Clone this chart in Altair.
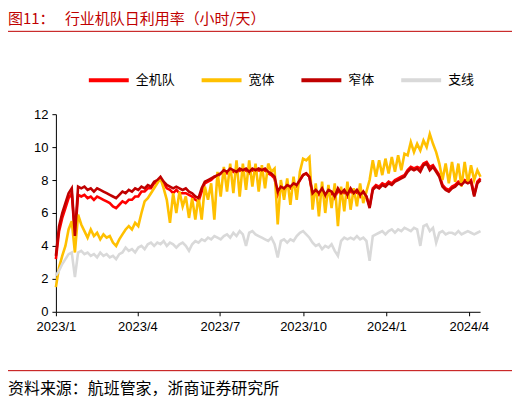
import altair as alt
import pandas as pd

# semi-weekly readings, 2023-01-01 .. 2024-04-13
dates = pd.date_range("2023-01-01", periods=135, freq="84h").strftime("%Y-%m-%dT%H:%M")

fleet_all = [
    3.2, 4.9, 5.7, 6.3, 6.9, 7.2, 4.6, 7.1, 7.0, 7.1,
    6.9, 7.0, 6.8, 7.0, 6.9, 6.8, 6.7, 6.6, 6.4, 6.3,
    6.5, 6.7, 6.6, 6.8, 6.8, 7.0, 7.0, 7.3, 7.3, 7.5,
    7.5, 7.8, 7.9, 8.1, 7.8, 7.5, 7.4, 7.2, 7.4, 7.2,
    7.2, 7.2, 7.1, 7.0, 6.8, 6.7, 7.3, 7.8, 7.9, 8.0,
    8.2, 8.2, 8.4, 8.5, 8.4, 8.6, 8.5, 8.4, 8.6, 8.5,
    8.6, 8.4, 8.6, 8.5, 8.6, 8.5, 8.6, 8.4, 8.3, 8.1,
    7.1, 7.5, 7.4, 7.6, 7.5, 7.7, 7.6, 8.0, 8.3, 8.4,
    8.2, 7.1, 7.3, 7.1, 7.4, 7.0, 7.3, 7.2, 6.9, 7.4,
    7.1, 7.3, 7.0, 7.4, 7.1, 7.3, 7.0, 7.3, 7.0, 6.4,
    7.5, 7.7, 7.6, 7.8, 7.7, 7.9, 7.8, 8.0, 8.1, 8.2,
    8.3, 8.6, 8.8, 8.7, 8.8, 8.7, 9.0, 9.1, 8.8, 8.9,
    8.6, 8.3, 7.7, 7.5, 7.4, 7.6, 7.7, 7.9, 7.8, 8.0,
    7.9, 8.0, 7.1, 7.9, 8.1,
]
wide_body = [
    1.5, 2.7, 3.4, 4.0, 5.0, 5.5, 3.6, 5.9, 5.3, 4.9,
    4.5, 5.0, 4.6, 4.8, 4.4, 4.7, 4.5, 4.6, 4.2, 4.0,
    4.4, 4.7, 5.0, 5.2, 5.0, 5.4, 5.2, 6.0, 6.7, 6.9,
    7.2, 7.5, 7.8, 8.1, 7.5, 6.8, 5.4, 7.2, 6.0, 7.3,
    6.4, 7.0, 5.7, 6.9, 5.6, 7.0, 5.6, 7.6, 6.8, 7.8,
    5.6, 8.5, 7.0, 8.8, 7.3, 9.0, 7.2, 9.2, 7.0, 9.0,
    7.4, 9.2, 7.6, 9.0, 7.3, 8.9, 7.5, 9.0, 8.5, 8.7,
    5.3, 8.0, 6.8, 8.1, 6.5, 8.2, 6.8, 8.5, 9.3, 9.2,
    9.4, 6.2, 7.8, 5.8, 7.9, 6.0, 7.7, 6.3, 7.8, 5.2,
    7.6, 6.1, 7.9, 6.2, 7.5, 6.4, 7.8, 6.6, 7.3, 8.0,
    9.2, 8.2, 9.2, 8.3, 9.3, 8.4, 9.4, 8.5, 9.5, 8.6,
    9.6, 9.5, 10.3, 9.7, 10.2, 9.8, 10.4, 10.0, 10.8, 10.2,
    9.7, 9.0, 8.0, 9.0, 7.8, 9.1, 7.9, 9.0, 7.6, 9.1,
    7.8, 8.9, 8.0, 8.6, 8.2,
]
narrow_body = [
    3.4, 5.2, 6.0, 6.6, 7.2, 7.5, 4.6, 7.6, 7.5, 7.6,
    7.4, 7.5, 7.3, 7.5, 7.4, 7.3, 7.2, 7.1, 7.0, 6.9,
    7.1, 7.3, 7.2, 7.4, 7.3, 7.5, 7.4, 7.6, 7.5, 7.7,
    7.6, 7.9, 8.0, 8.2, 7.9, 7.7, 7.6, 7.5, 7.6, 7.5,
    7.4, 7.5, 7.3, 7.2, 7.0, 6.9, 7.5, 7.9, 8.0, 8.1,
    8.2, 8.3, 8.4, 8.6, 8.5, 8.7, 8.6, 8.5, 8.7, 8.6,
    8.7, 8.5, 8.7, 8.6, 8.7, 8.6, 8.7, 8.5, 8.4, 8.2,
    7.3, 7.6, 7.5, 7.7, 7.6, 7.8, 7.7, 8.0, 8.3, 8.4,
    8.2, 7.2, 7.4, 7.2, 7.5, 7.1, 7.4, 7.3, 7.0, 7.5,
    7.2, 7.4, 7.1, 7.5, 7.2, 7.4, 7.1, 7.3, 7.0, 6.3,
    7.4, 7.6, 7.5, 7.7, 7.6, 7.8, 7.7, 7.9, 8.0, 8.1,
    8.2, 8.5, 8.7, 8.6, 8.7, 8.5, 8.9, 9.0, 8.6, 8.8,
    8.5, 8.2, 7.6, 7.4, 7.3, 7.5, 7.6, 7.8, 7.7, 7.9,
    7.8, 7.9, 7.0, 7.8, 8.0,
]
regional = [
    2.2, 2.5, 2.9, 3.2, 3.5, 3.6, 2.1, 3.6, 3.7, 3.5,
    3.6, 3.4, 3.5, 3.3, 3.6, 3.4, 3.5, 3.3, 3.4, 3.2,
    3.5, 3.6, 3.9, 3.7, 3.8, 3.6, 3.9, 4.0, 3.8, 4.1,
    4.2, 4.0, 4.2, 4.1, 4.3, 4.0, 4.2, 4.1, 3.9, 4.1,
    4.2, 4.0, 3.7, 4.1, 4.3, 4.2, 4.4, 4.3, 4.5, 4.4,
    4.6, 4.5, 4.4, 4.6, 4.7, 4.5, 4.8, 4.6, 4.9, 4.7,
    4.0, 4.8, 4.9, 4.7, 4.6, 4.5, 4.4, 4.3, 4.5, 4.1,
    3.3, 4.3, 4.4, 4.2, 4.4, 4.3, 4.6, 4.8, 4.9, 4.7,
    4.5, 4.2, 4.0, 4.1, 3.8, 4.0, 3.9, 4.1, 3.7, 3.4,
    4.3, 4.5, 4.4, 4.5, 4.4, 4.6, 4.4, 4.5, 4.3, 3.1,
    4.6, 4.7, 4.8, 4.9, 4.7, 4.9, 5.0, 4.8, 5.0, 4.9,
    5.1, 5.0, 4.9, 5.1, 5.0, 4.0, 5.2, 5.3, 4.9, 5.1,
    4.2, 4.8, 4.9, 4.7, 4.8, 4.8, 4.7, 4.9, 4.7, 4.8,
    4.9, 4.8, 4.7, 4.8, 4.9,
]

series_names = ["全机队", "宽体", "窄体", "支线"]
series_colors = ["#ff0000", "#ffc000", "#c00000", "#d9d9d9"]
series_values = [fleet_all, wide_body, narrow_body, regional]

rows = []
for name, vals in zip(series_names, series_values):
    assert len(vals) == len(dates), name
    for d, v in zip(dates, vals):
        rows.append({"date": d, "series": name, "value": v})
df = pd.DataFrame(rows)

tick_dates = [alt.DateTime(year=y, month=m, date=1) for y, m in
              [(2023, 1), (2023, 4), (2023, 7), (2023, 10), (2024, 1), (2024, 4)]]

base = alt.Chart(df).encode(
    x=alt.X("date:T",
            scale=alt.Scale(domain=[alt.DateTime(year=2023, month=1, date=1),
                                    alt.DateTime(year=2024, month=4, date=13, hours=12)]),
            axis=alt.Axis(values=tick_dates, format="%Y/%-m", title=None,
                          labelOverlap=False, labelFlush=False, labelPadding=5)),
    y=alt.Y("value:Q", scale=alt.Scale(domain=[0, 12], nice=False),
            axis=alt.Axis(values=[0, 2, 4, 6, 8, 10, 12], title=None, labelPadding=4)),
    color=alt.Color("series:N",
                    scale=alt.Scale(domain=series_names, range=series_colors),
                    legend=alt.Legend(orient="none", legendX=31, legendY=-56,
                                      direction="horizontal", title=None,
                                      symbolType="stroke", symbolSize=1600,
                                      symbolStrokeWidth=4, labelOffset=5,
                                      columnPadding=18, padding=0,
                                      labelFont="Noto Sans CJK SC", labelFontSize=13,
                                      labelColor="black")),
)

# later series drawn on top, as in the original
lines = [base.mark_line(strokeWidth=2.6).transform_filter(alt.datum.series == n)
         for n in series_names]

one = pd.DataFrame({"k": [0]})
red = "#c00000"
title_a = alt.Chart(one).mark_text(align="left", baseline="middle", font="Noto Sans CJK SC",
                                   fontSize=15, color=red).encode(
    x=alt.value(-48), y=alt.value(-95), text=alt.value("图11："))
title_b = alt.Chart(one).mark_text(align="left", baseline="middle", font="Noto Sans CJK SC",
                                   fontSize=15, color=red).encode(
    x=alt.value(9), y=alt.value(-95), text=alt.value("行业机队日利用率（小时/天）"))
top_rule = alt.Chart(one).mark_rule(color=red, strokeWidth=1).encode(
    x=alt.value(-48), x2=alt.value(460), y=alt.value(-83))
bottom_rule = alt.Chart(one).mark_rule(color=red, strokeWidth=1).encode(
    x=alt.value(-48), x2=alt.value(460), y=alt.value(257))
source = alt.Chart(one).mark_text(align="left", baseline="middle", font="Noto Sans CJK SC",
                                  fontSize=16, color="black").encode(
    x=alt.value(-48), y=alt.value(275), text=alt.value("资料来源：航班管家，浙商证券研究所"))

chart = alt.layer(*lines, title_a, title_b, top_rule, bottom_rule, source).properties(
    width=425, height=198,
    autosize=alt.AutoSizeParams(type="none"),
    padding={"left": 48, "top": 106, "right": 32, "bottom": 88},
).configure_axis(
    grid=False, domainColor="black", tickColor="black", labelColor="black",
    labelFont="Liberation Sans", labelFontSize=13, tickSize=4,
).configure_view(strokeWidth=0)

chart.save("out.html", embed_options={"renderer": "svg", "actions": False})
